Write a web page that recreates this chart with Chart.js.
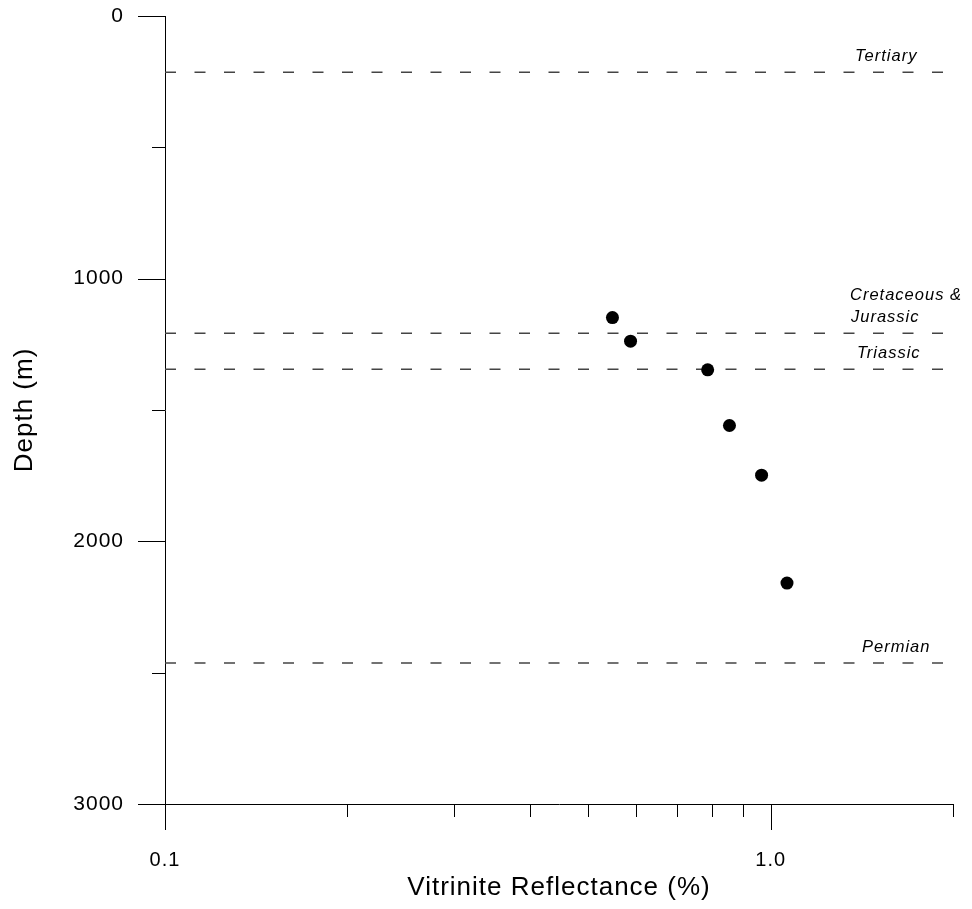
<!DOCTYPE html>
<html>
<head>
<meta charset="utf-8">
<script src="https://cdn.jsdelivr.net/npm/chart.js@4/dist/chart.umd.min.js"></script>
<style>
  html, body { margin: 0; padding: 0; background: #fff; }
  #wrap { width: 972px; height: 909px; }
</style>
</head>
<body>
<div id="wrap"><canvas id="c" width="972" height="909"></canvas></div>
<script>
// ---- data ----
const reflectance = [0.548, 0.587, 0.787, 0.855, 0.966, 1.064];
const depth = [1148, 1238, 1347, 1559, 1748, 2159];

const boundaryDepths = [214, 1208, 1345, 2463];
const boundaryNames = [["Tertiary"], ["Cretaceous &", "Jurassic"], ["Triassic"], ["Permian"]];

const xLabelTicks = [0.1, 1.0];
const xMinorTicks = [0.2, 0.3, 0.4, 0.5, 0.6, 0.7, 0.8, 0.9, 2.0];
const yLabelTicks = [0, 1000, 2000, 3000];
const yMinorTicks = [500, 1500, 2500];

const xMin = 0.1, xMax = 2.0;
const yMin = 0, yMax = 3000;

// ---- styles ----
const FONT = '"Liberation Sans", Arial, sans-serif';
const labelLeft = [[855], [850, 851], [857], [862]]; // left x (px) of each label line
const labelLineGap = 22;
const labelRaise = 11;

const tickPlugin = {
  id: 'ticksAndLabels',
  beforeDraw(chart) {
    chart.ctx.letterSpacing = '1px';
  },
  afterDraw(chart) {
    const ctx = chart.ctx;
    const xs = chart.scales.x, ys = chart.scales.y;
    const left = chart.chartArea.left, bottom = chart.chartArea.bottom;
    ctx.save();
    ctx.strokeStyle = '#000';
    ctx.lineWidth = 1;
    ctx.beginPath();
    yLabelTicks.forEach(v => { const p = Math.round(ys.getPixelForValue(v)) + 0.5; ctx.moveTo(left - 27, p); ctx.lineTo(left, p); });
    yMinorTicks.forEach(v => { const p = Math.round(ys.getPixelForValue(v)) + 0.5; ctx.moveTo(left - 13, p); ctx.lineTo(left, p); });
    xLabelTicks.forEach(v => { const p = Math.round(xs.getPixelForValue(v)) + 0.5; ctx.moveTo(p, bottom); ctx.lineTo(p, bottom + 26); });
    xMinorTicks.forEach(v => { const p = Math.round(xs.getPixelForValue(v)) + 0.5; ctx.moveTo(p, bottom); ctx.lineTo(p, bottom + 13); });
    ctx.stroke();

    ctx.fillStyle = '#000';
    ctx.font = 'italic 16.5px ' + FONT;
    ctx.letterSpacing = '1px';
    ctx.textAlign = 'left';
    ctx.textBaseline = 'alphabetic';
    boundaryNames.forEach((lines, i) => {
      const yLine = ys.getPixelForValue(boundaryDepths[i]);
      const n = lines.length;
      lines.forEach((t, j) => {
        const y = yLine - labelRaise - (n - 1 - j) * labelLineGap;
        ctx.fillText(t, labelLeft[i][j], y);
      });
    });
    ctx.restore();
  }
};

const datasets = [{
  type: 'scatter',
  data: reflectance.map((r, i) => ({ x: r, y: depth[i] })),
  backgroundColor: '#000',
  borderWidth: 0,
  pointRadius: 6.5,
  pointHoverRadius: 6.5
}];
boundaryDepths.forEach(d => {
  datasets.push({
    type: 'line',
    data: [{ x: xMin, y: d }, { x: xMax, y: d }],
    borderColor: '#444',
    borderWidth: 1.5,
    borderDash: [11, 18.5],
    pointRadius: 0,
    fill: false
  });
});

const zeroPad = s => { s.paddingTop = 0; s.paddingBottom = 0; s.paddingLeft = 0; s.paddingRight = 0; };

new Chart(document.getElementById('c'), {
  type: 'scatter',
  data: { datasets },
  options: {
    responsive: false,
    animation: false,
    devicePixelRatio: 1,
    layout: { padding: { top: 16, right: 19, left: 0, bottom: 0 } },
    plugins: { legend: { display: false }, tooltip: { enabled: false } },
    scales: {
      x: {
        type: 'logarithmic',
        position: 'bottom',
        min: xMin, max: xMax,
        grid: { display: false, drawTicks: false, tickLength: 0 },
        border: { display: true, color: '#000', width: 1 },
        afterBuildTicks: s => { s.ticks = xLabelTicks.map(v => ({ value: v })); },
        afterFit: s => { s.height = 105; zeroPad(s); },
        ticks: {
          color: '#000', padding: 44, maxRotation: 0, autoSkip: false,
          font: { family: FONT, size: 20 },
          callback: v => Number(v).toFixed(1)
        },
        title: {
          display: true, text: 'Vitrinite Reflectance (%)', color: '#000',
          font: { family: FONT, size: 26 }, padding: { top: 0, bottom: 6 }
        }
      },
      y: {
        type: 'linear',
        reverse: true,
        min: yMin, max: yMax,
        grid: { display: false, drawTicks: false, tickLength: 0 },
        border: { display: true, color: '#000', width: 1 },
        afterBuildTicks: s => { s.ticks = yLabelTicks.map(v => ({ value: v })); },
        afterFit: s => { s.width = 165; zeroPad(s); },
        ticks: {
          color: '#000', padding: 41, autoSkip: false,
          font: { family: FONT, size: 21 },
          callback: v => String(v)
        },
        title: {
          display: true, text: 'Depth (m)', color: '#000',
          font: { family: FONT, size: 26 }, padding: { top: 9, bottom: 0 }
        }
      }
    }
  },
  plugins: [tickPlugin]
});
</script>
</body>
</html>
